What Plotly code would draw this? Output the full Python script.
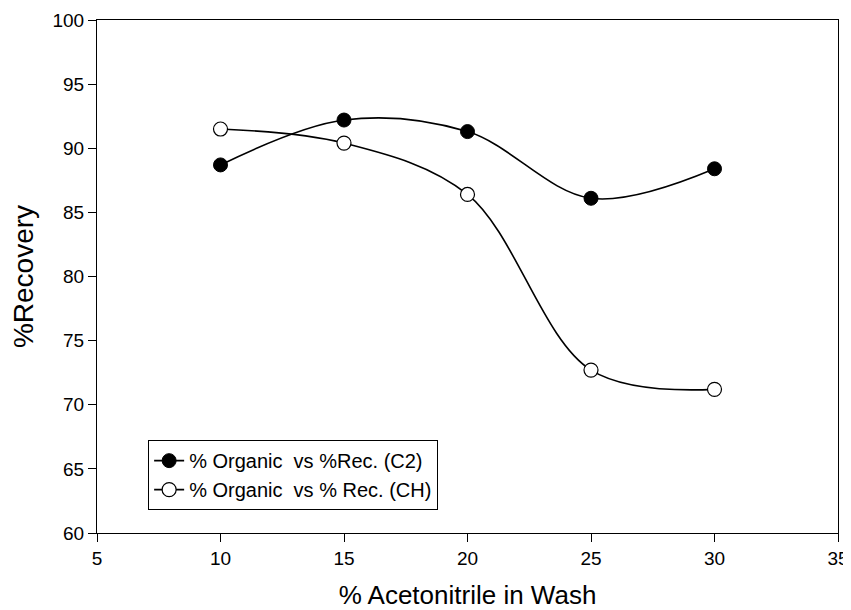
import plotly.graph_objects as go

x_vals = [10, 15, 20, 25, 30]
c2_vals = [88.7, 92.2, 91.3, 86.1, 88.4]
ch_vals = [91.5, 90.4, 86.4, 72.7, 71.2]
names = ["% Organic  vs %Rec. (C2)", "% Organic  vs % Rec. (CH)"]

fig = go.Figure()
fig.add_trace(go.Scatter(
    x=x_vals, y=c2_vals, name=names[0], mode="lines+markers",
    line=dict(color="black", width=1.6, shape="spline", smoothing=1.0),
    marker=dict(symbol="circle", size=14, color="black", line=dict(color="black", width=1))))
fig.add_trace(go.Scatter(
    x=x_vals, y=ch_vals, name=names[1], mode="lines+markers",
    line=dict(color="black", width=1.6, shape="spline", smoothing=1.0),
    marker=dict(symbol="circle", size=14, color="white", line=dict(color="black", width=1.2))))

font = "Liberation Sans, Arial, sans-serif"
fig.update_layout(
    width=843, height=602,
    margin=dict(l=89, r=13, t=12, b=77),
    paper_bgcolor="white", plot_bgcolor="white",
    font=dict(family=font, color="black", size=19),
    showlegend=True,
    legend=dict(x=0.069, y=0.181, xanchor="left", yanchor="top",
                bordercolor="black", borderwidth=1, bgcolor="white",
                font=dict(size=20), tracegroupgap=0, itemwidth=30),
    xaxis=dict(range=[5, 35], tickmode="linear", tick0=5, dtick=5,
               showgrid=False, zeroline=False, showline=True, linecolor="black",
               linewidth=1, mirror=True, ticks="outside", ticklen=8,
               tickcolor="black", tickfont=dict(size=19), automargin=False,
               title=dict(text="% Acetonitrile in Wash", font=dict(size=26), standoff=20)),
    yaxis=dict(range=[60, 100], tickmode="linear", tick0=60, dtick=5,
               showgrid=False, zeroline=False, showline=True, linecolor="black",
               linewidth=1, mirror=True, ticks="outside", ticklen=8,
               tickcolor="black", tickfont=dict(size=19), automargin=False,
               title=dict(text="%Recovery", font=dict(size=28), standoff=14)),
)
fig.write_html("out.html")
